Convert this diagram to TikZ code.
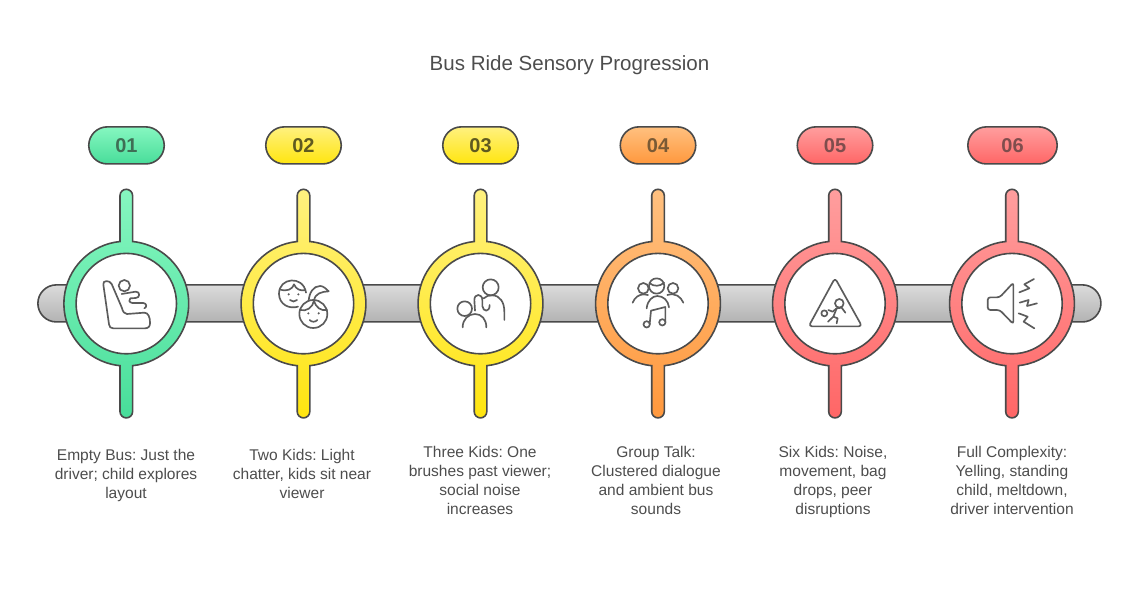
\documentclass[tikz,border=0pt]{standalone}
\usepackage{fontspec}
\setmainfont{Liberation Sans}
\usetikzlibrary{shapes.misc}
\definecolor{linegray}{HTML}{4A4A4A}
\definecolor{icongray}{HTML}{5C5C5C}
\definecolor{textgray}{HTML}{4D4D4D}
\definecolor{greentop}{HTML}{86F7C0}
\definecolor{greenbot}{HTML}{48DD9A}
\definecolor{yellowtop}{HTML}{FFF17F}
\definecolor{yellowbot}{HTML}{FFE50F}
\definecolor{orangetop}{HTML}{FFC07F}
\definecolor{orangebot}{HTML}{FF983D}
\definecolor{redtop}{HTML}{FF9E9E}
\definecolor{redbot}{HTML}{FF6666}
\definecolor{greenink}{HTML}{3F6E55}
\definecolor{yellowink}{HTML}{5F5A20}
\definecolor{orangeink}{HTML}{7A5A35}
\definecolor{redink}{HTML}{7F4D4D}
\tikzset{
	ringpath/.style={insert path={
		++(-6.3,108) arc[start angle=180,end angle=0,radius=6.3]
		-- ++(0,-45.92) arc[start angle=84.2,end angle=-84.2,radius=62.4]
		-- ++(0,-45.92) arc[start angle=0,end angle=-180,radius=6.3]
		-- ++(0,45.92) arc[start angle=264.2,end angle=95.8,radius=62.4]
		-- cycle}},
	ringline/.style={draw=linegray,line width=1.2pt},
	ringgreen/.style={ringline,top color=greentop,bottom color=greenbot},
	ringyellow/.style={ringline,top color=yellowtop,bottom color=yellowbot},
	ringorange/.style={ringline,top color=orangetop,bottom color=orangebot},
	ringred/.style={ringline,top color=redtop,bottom color=redbot},
	barbox/.style={rounded rectangle,draw=linegray,line width=1.2pt,inner sep=0pt,
		minimum width=797.3pt,minimum height=27.8pt,top color=black!14,bottom color=black!30},
	hubdisc/.style={circle,draw=linegray,line width=1.2pt,fill=white,inner sep=0pt,minimum size=75.3pt},
	pillbox/.style={rounded rectangle,draw=linegray,line width=1.2pt,inner sep=0pt,
		minimum width=56.6pt,minimum height=27.8pt,font=\bfseries\fontsize{15}{18}\selectfont},
	caption/.style={align=center,text=textgray,inner sep=0pt,font=\frenchspacing\fontsize{11.65}{14.25}\selectfont,
		execute at begin node=\strut,execute at end node=\strut},
	iconline/.style={draw=icongray,line width=1.25pt,line cap=round,line join=round},
	iconbox/.style={x=.25pt,y=-.25pt,iconline}
}
\begin{document}
\begin{tikzpicture}[x=.75pt,y=.75pt]
	\useasboundingbox (0,0) rectangle (1139,594);
	
	\node[text=textgray,font=\fontsize{15.4}{18}\selectfont] (title) at (569.5,528.5) {Bus Ride Sensory Progression};
	
	\node[barbox] (bar) at (569.4,290.6) {};
	
	\coordinate (hub1) at (126.3,290.4);
	\coordinate (hub2) at (303.5,290.4);
	\coordinate (hub3) at (480.5,290.4);
	\coordinate (hub4) at (658,290.4);
	\coordinate (hub5) at (835,290.4);
	\coordinate (hub6) at (1012,290.4);
	
	\path[ringgreen] (hub1) [ringpath];
	\path[ringyellow] (hub2) [ringpath];
	\path[ringyellow] (hub3) [ringpath];
	\path[ringorange] (hub4) [ringpath];
	\path[ringred] (hub5) [ringpath];
	\path[ringred] (hub6) [ringpath];
	
	\node[hubdisc] (disc1) at (hub1) {};
	\node[hubdisc] (disc2) at (hub2) {};
	\node[hubdisc] (disc3) at (hub3) {};
	\node[hubdisc] (disc4) at (hub4) {};
	\node[hubdisc] (disc5) at (hub5) {};
	\node[hubdisc] (disc6) at (hub6) {};
	
	\node[pillbox,top color=greentop,bottom color=greenbot,text=greenink] (pill1) at (126.5,448.6) {01};
	\node[pillbox,top color=yellowtop,bottom color=yellowbot,text=yellowink] (pill2) at (303.5,448.6) {02};
	\node[pillbox,top color=yellowtop,bottom color=yellowbot,text=yellowink] (pill3) at (480.5,448.6) {03};
	\node[pillbox,top color=orangetop,bottom color=orangebot,text=orangeink] (pill4) at (658,448.6) {04};
	\node[pillbox,top color=redtop,bottom color=redbot,text=redink] (pill5) at (835,448.6) {05};
	\node[pillbox,minimum width=67pt,top color=redtop,bottom color=redbot,text=redink] (pill6) at (1012.5,448.6) {06};
	
	\node[caption] (text1) at (126,117) {Empty Bus: Just the\\driver; child explores\\layout};
	\node[caption] (text2) at (302,117) {Two Kids: Light\\chatter, kids sit near\\viewer};
	\node[caption] (text3) at (480,110.5) {Three Kids: One\\brushes past viewer;\\social noise\\increases};
	\node[caption] (text4) at (656,110.5) {Group Talk:\\Clustered dialogue\\and ambient bus\\sounds};
	\node[caption] (text5) at (833,110.5) {Six Kids: Noise,\\movement, bag\\drops, peer\\disruptions};
	\node[caption] (text6) at (1012,110.5) {Full Complexity:\\Yelling, standing\\child, meltdown,\\driver intervention};
	
	% seat
	\begin{scope}[shift={(95,324)},iconbox]
		\draw (88,47) circle[radius=17];
		\draw (25,44) -- (42,163) .. controls (43,171) and (47,175) .. (55,175) -- (150,175) .. controls (161,175) and (166,168) .. (165,157) .. controls (165,142) and (160,128) .. (148,128) -- (96,132) .. controls (88,132) and (84,126) .. (80,112) -- (50,42) .. controls (44,30) and (22,30) .. (25,44);
		\draw (80,72) -- (122,65) .. controls (136,64) and (136,84) .. (122,84) -- (106,85) .. controls (100,88) and (102,98) .. (112,99) -- (145,99) .. controls (156,100) and (156,112) .. (148,115);
	\end{scope}
	
	% two kids
	\begin{scope}[shift={(270,324)},iconbox]
		\draw (108,68) .. controls (100,15) and (26,22) .. (27,72) .. controls (28,104) and (58,118) .. (84,110);
		\draw (29,58) .. controls (50,66) and (68,58) .. (72,43) .. controls (78,58) and (92,64) .. (106,60);
		\fill[icongray] (56,73) circle[radius=3.5] (85,73) circle[radius=3.5];
		\draw (60,90) .. controls (66,96) and (75,96) .. (81,90);
		\draw (130,132) circle[radius=42];
		\draw (90,120) .. controls (110,125) and (128,113) .. (132,92) .. controls (138,113) and (152,123) .. (171,120);
		\draw (116,92) .. controls (118,68) and (130,48) .. (150,48) .. controls (160,48) and (168,56) .. (176,64) .. controls (155,65) and (135,70) .. (132,92);
		\fill[icongray] (115,130) circle[radius=3.5] (146,130) circle[radius=3.5];
		\draw (119,150) .. controls (125,157) and (136,157) .. (142,150);
	\end{scope}
	
	% child and adult
	\begin{scope}[shift={(447,324)},iconbox]
		\draw (131,52) circle[radius=24];
		\draw (110,85) .. controls (118,78) and (125,76) .. (135,76) .. controls (160,76) and (172,98) .. (172,125) -- (172,150);
		\draw (84,122) -- (82,90) .. controls (82,70) and (106,70) .. (106,90) -- (106,108) .. controls (108,126) and (128,128) .. (128,105);
		\draw (53,116) circle[radius=22];
		\draw (47,172) .. controls (47,148) and (64,132) .. (84,132) .. controls (104,132) and (118,148) .. (118,172);
	\end{scope}
	
	% group and note
	\begin{scope}[shift={(624,324)},iconbox]
		\draw (98,48) circle[radius=23];
		\draw (77,40) .. controls (90,50) and (108,50) .. (120,38);
		\draw (58,55) circle[radius=16];
		\draw (147,55) circle[radius=16];
		\draw (26,98) .. controls (32,82) and (45,73) .. (60,73) -- (72,75);
		\draw (130,75) .. controls (155,68) and (170,80) .. (178,98);
		\draw (68,115) .. controls (70,92) and (85,78) .. (100,78) .. controls (118,78) and (133,92) .. (135,112);
		\draw (77,162) -- (81,122) -- (124,111) -- (124,155);
		\draw (68,163) circle[radius=9.5];
		\draw (115,157) circle[radius=9.5];
	\end{scope}
	
	% warning sign
	\begin{scope}[shift={(800,324)},iconbox]
		\draw[rounded corners=2.5pt] (105,24) -- (186,169) -- (26,169) -- cycle;
		\draw (118,100) circle[radius=13];
		\draw (73,130) circle[radius=9];
		\draw (85,120) -- (98,125) -- (110,115) -- (125,113) -- (136,128);
		\draw (110,115) -- (100,140) -- (84,155);
		\draw (100,140) -- (113,145) -- (110,160);
	\end{scope}
	
	% speaker
	\begin{scope}[shift={(977,324)},iconbox]
		\draw[rounded corners=2pt] (109,38) -- (109,162) -- (68,120) -- (32,120) -- (32,82) -- (68,82) -- cycle;
		\draw (127,67) -- (157,55) -- (142,43) -- (171,27);
		\draw (128,98) -- (155,90) -- (150,108) -- (180,100);
		\draw (125,130) -- (152,140) -- (140,155) -- (172,175);
	\end{scope}
\end{tikzpicture}
\end{document}
